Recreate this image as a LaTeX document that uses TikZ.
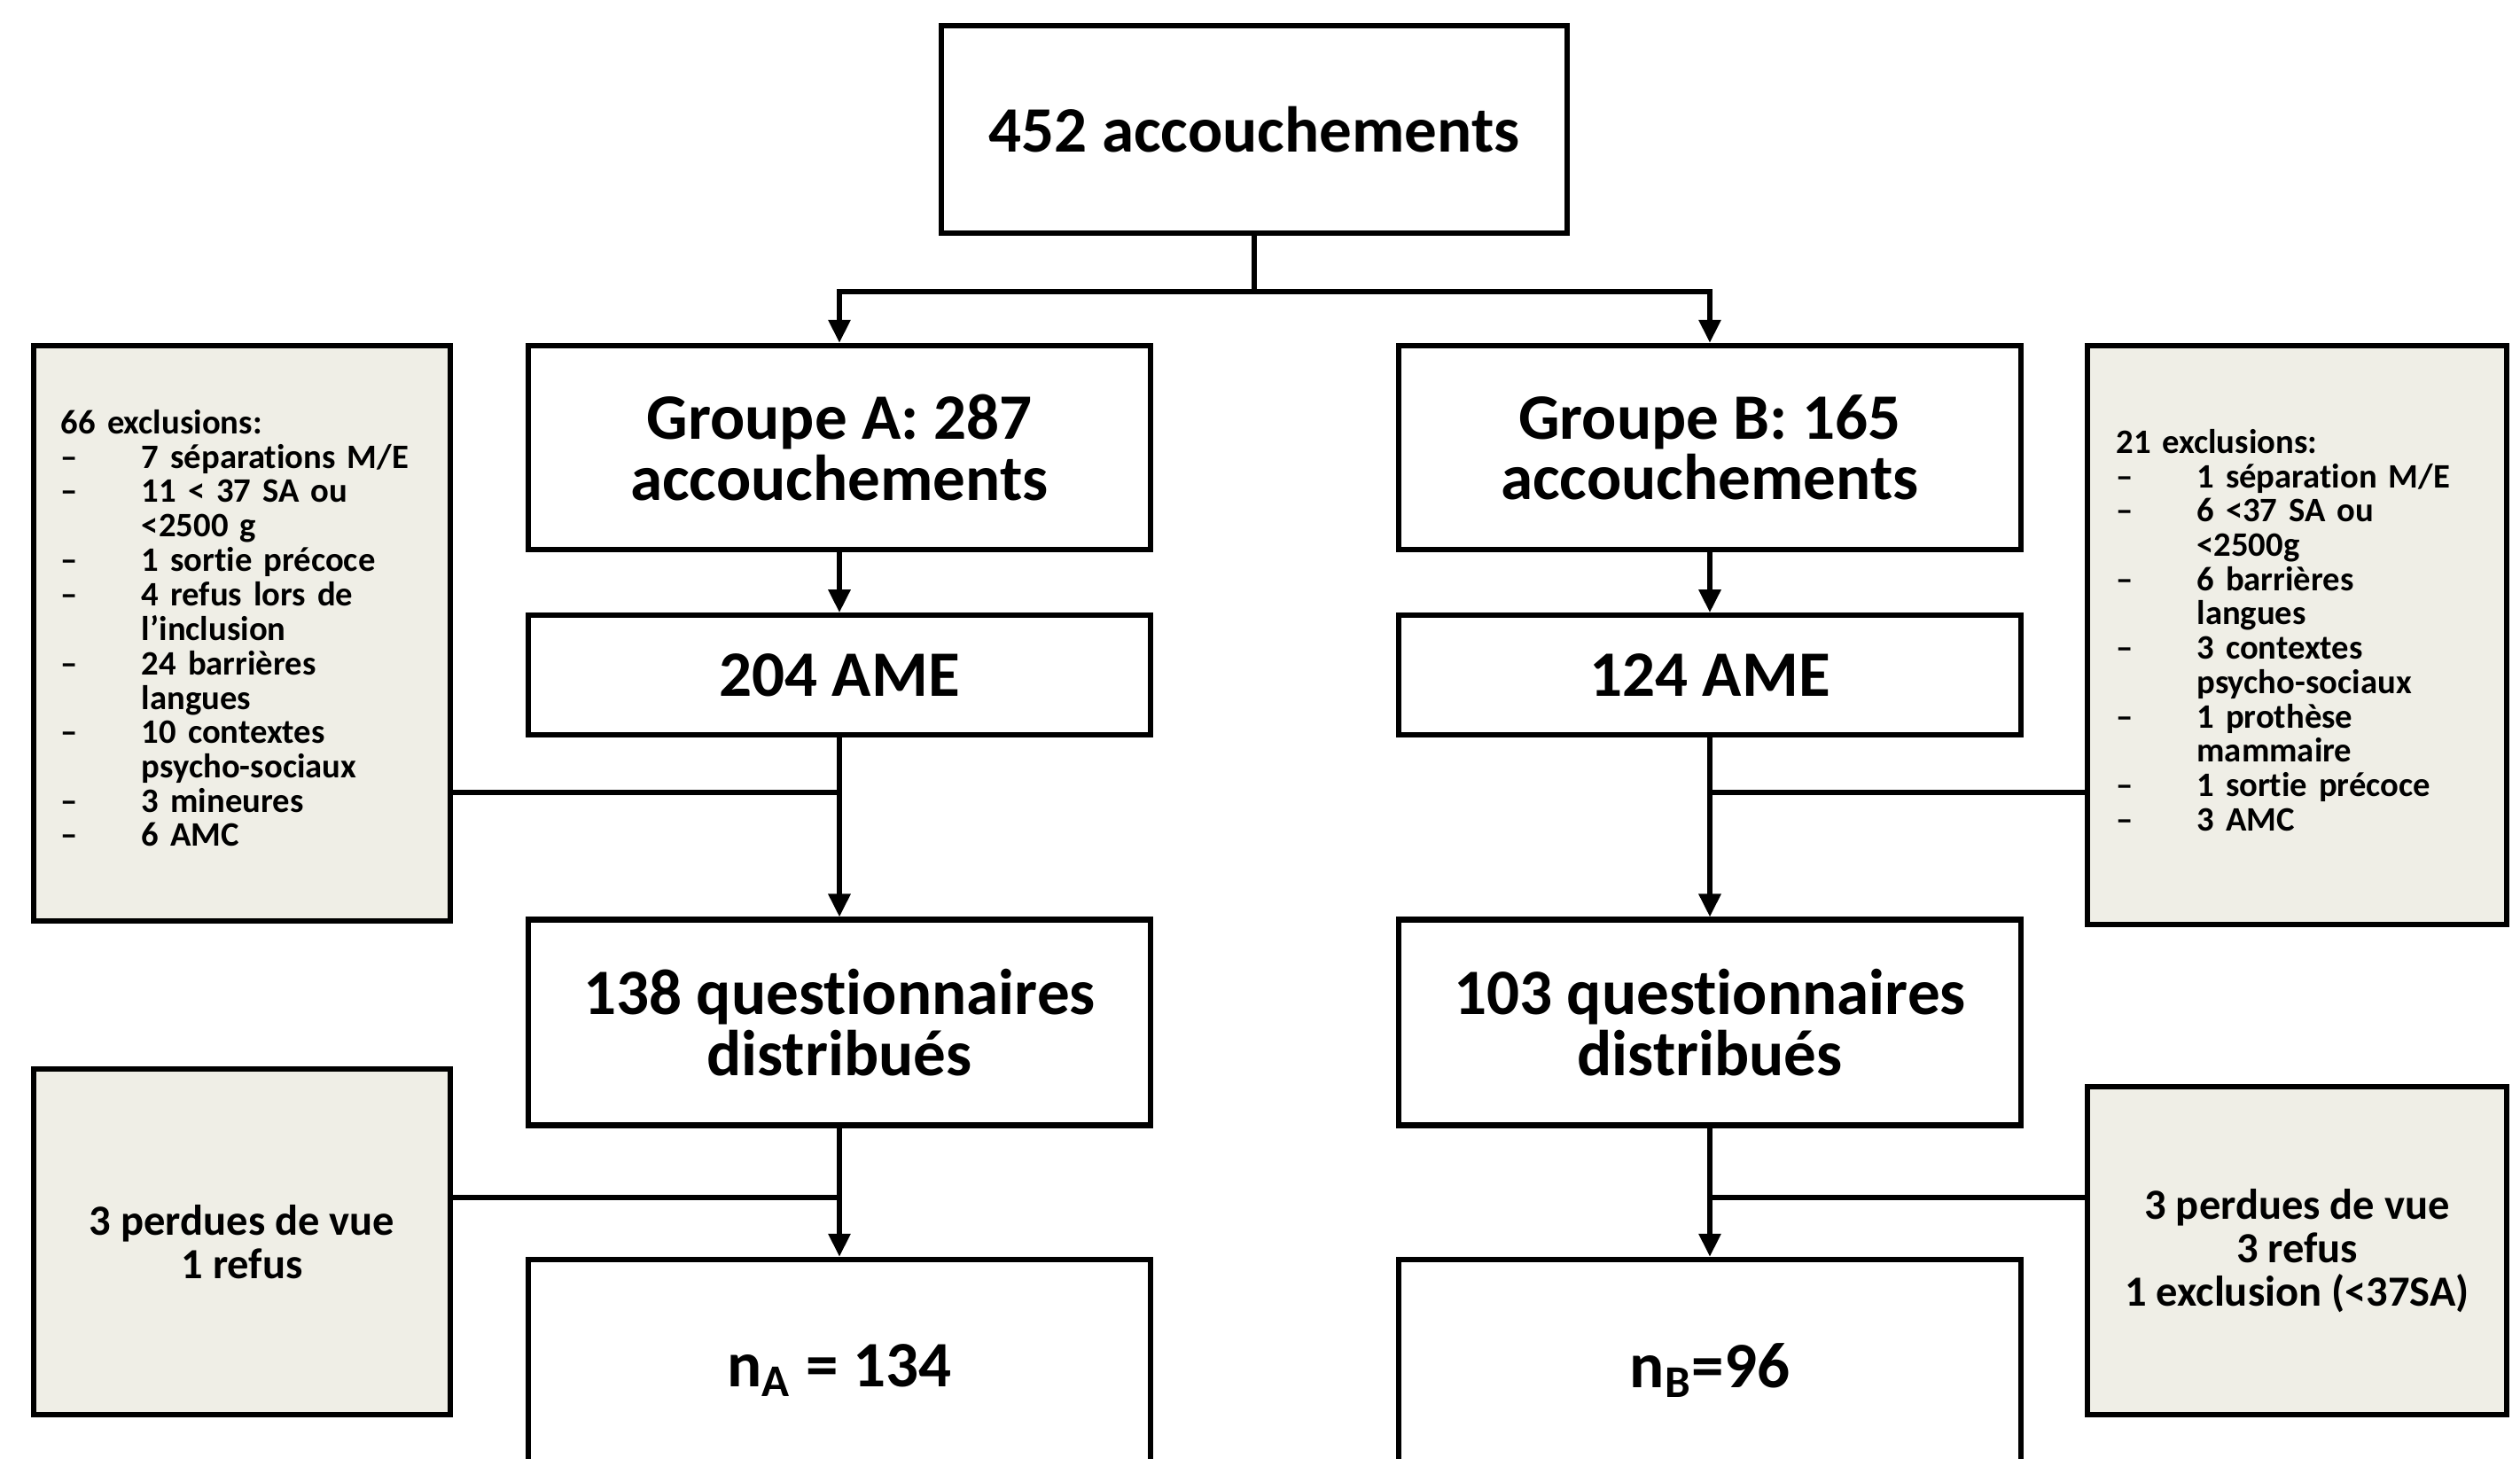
\documentclass[tikz,border=0pt]{standalone}
\usepackage{fontspec}
\setmainfont{Carlito}[Ligatures={TeX,NoCommon}]
\usepackage{xcolor}
\usetikzlibrary{arrows.meta, positioning}

\definecolor{sidegray}{RGB}{239,238,230}

\begin{document}
\begin{tikzpicture}[
    mainbox/.style={rectangle, draw, line width=1.8pt, minimum width=7.02cm, align=center, inner sep=2pt, font=\bfseries\fontsize{20.8}{19.5}\selectfont},
    sidebox/.style={rectangle, draw, line width=1.8pt, fill=sidegray, minimum width=4.70cm, inner xsep=0.31cm},
    listbox/.style={sidebox, text width=4.08cm, align=left, font=\bfseries\fontsize{11}{11}\selectfont},
    lossbox/.style={sidebox, align=center, font=\bfseries\fontsize{13.8}{14}\selectfont},
    arrow/.style={-{Triangle[length=0.26cm,width=0.24cm]}, line width=1.7pt},
    link/.style={line width=1.7pt}
]
\useasboundingbox (0,0) rectangle (28.43,-16.46);
\clip (0,0) rectangle (28.43,-16.46);

% main column
\node[mainbox, minimum width=7.06cm, minimum height=2.34cm] (top) at (14.15,-1.46) {452 accouchements};

\node[mainbox, minimum height=2.30cm] (grpA) at (9.47,-5.05) {Groupe A: 287\\accouchements};
\node[mainbox, minimum height=1.35cm, below=0.68cm of grpA] (ameA) {204 AME};
\node[mainbox, minimum height=2.32cm, below=2.02cm of ameA] (qA) {138 questionnaires\\distribués};
\node[mainbox, minimum height=2.50cm, below=1.45cm of qA] (nA) {n\textsubscript{A} = 134};

\node[mainbox, minimum height=2.30cm] (grpB) at (19.29,-5.05) {Groupe B: 165\\accouchements};
\node[mainbox, minimum height=1.35cm, below=0.68cm of grpB] (ameB) {124 AME};
\node[mainbox, minimum height=2.32cm, below=2.02cm of ameB] (qB) {103 questionnaires\\distribués};
\node[mainbox, minimum height=2.50cm, below=1.45cm of qB] (nB) {n\textsubscript{B}=96};

% side boxes
\node[listbox, minimum height=6.49cm] (exclA) at (2.73,-7.145) {%
\begin{tabular}{@{}p{0.91cm}@{}l@{}}
\multicolumn{2}{@{}l@{}}{66 exclusions:}\\
--& 7 séparations M/E\\
--& 11 < 37 SA ou\\
  & <2500 g\\
--& 1 sortie précoce\\
--& 4 refus lors de\\
  & l'inclusion\\
--& 24 barrières\\
  & langues\\
--& 10 contextes\\
  & psycho-sociaux\\
--& 3 mineures\\
--& 6 AMC
\end{tabular}};

\node[listbox, minimum width=4.73cm, minimum height=6.53cm] (exclB) at (25.915,-7.165) {%
\begin{tabular}{@{}p{0.91cm}@{}l@{}}
\multicolumn{2}{@{}l@{}}{21 exclusions:}\\
--& 1 séparation M/E\\
--& 6 <37 SA ou\\
  & <2500g\\
--& 6 barrières\\
  & langues\\
--& 3 contextes\\
  & psycho-sociaux\\
--& 1 prothèse\\
  & mammaire\\
--& 1 sortie précoce\\
--& 3 AMC
\end{tabular}};

\node[lossbox, minimum height=3.90cm] (lossA) at (2.73,-14.01) {3 perdues de vue\\1 refus};
\node[lossbox, minimum width=4.73cm, minimum height=3.70cm] (lossB) at (25.915,-14.11) {3 perdues de vue\\3 refus\\1 exclusion (<37SA)};

% connectors
\coordinate (split) at ([yshift=-0.63cm]top.south);
\draw[link] (top) -- (split);
\draw[arrow] (split) -| (grpA);
\draw[arrow] (split) -| (grpB);

\draw[arrow] (grpA) -- (ameA);
\draw[arrow] (ameA) -- (qA);
\draw[arrow] (qA) -- (nA);
\draw[arrow] (grpB) -- (ameB);
\draw[arrow] (ameB) -- (qB);
\draw[arrow] (qB) -- (nB);

\coordinate (jA) at (9.47,-8.94);
\coordinate (jB) at (19.29,-8.94);
\coordinate (kA) at (9.47,-13.51);
\coordinate (kB) at (19.29,-13.51);
\draw[link] (exclA.east |- jA) -- (jA);
\draw[link] (jB) -- (exclB.west |- jB);
\draw[link] (lossA.east |- kA) -- (kA);
\draw[link] (kB) -- (lossB.west |- kB);
\end{tikzpicture}
\end{document}
